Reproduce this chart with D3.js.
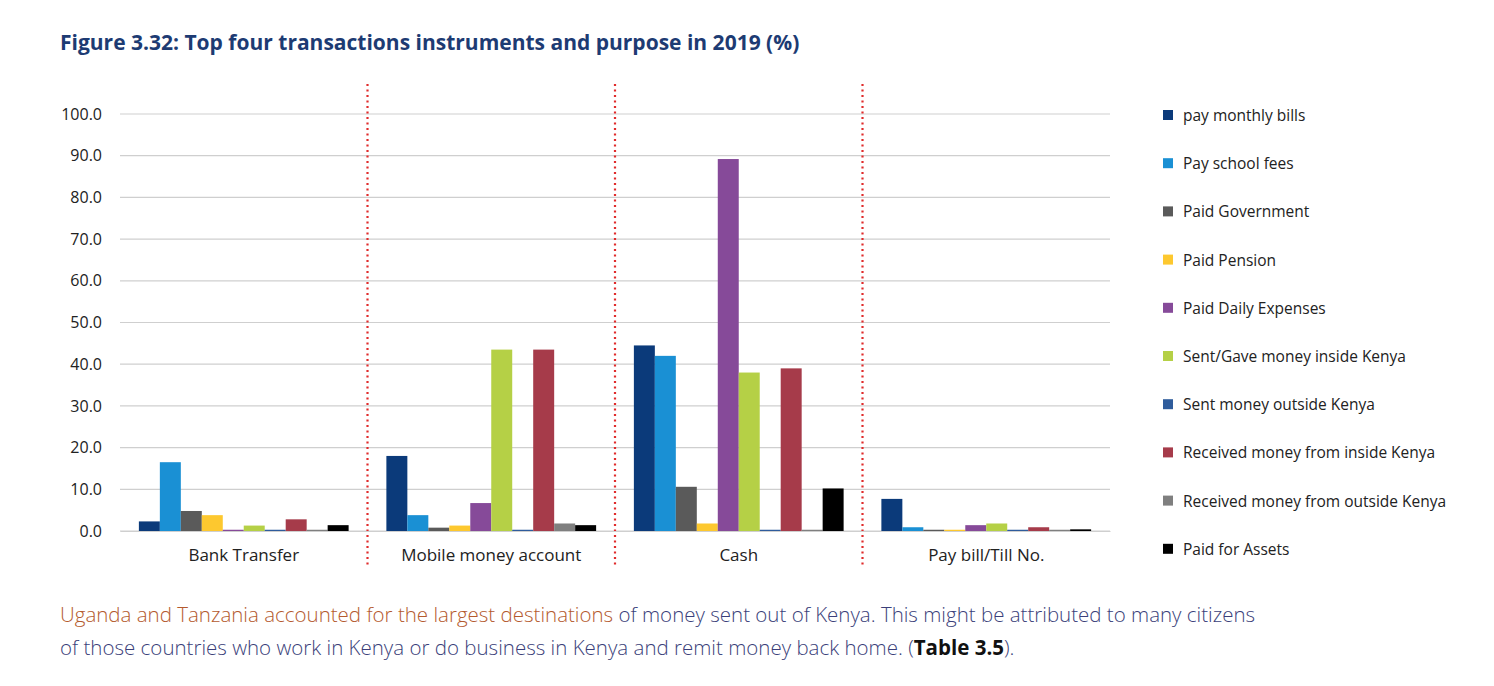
<!DOCTYPE html>
<html>
<head>
<meta charset="utf-8">
<script src="https://cdn.jsdelivr.net/npm/d3@7"></script>
<style>
  body { margin: 0; background: #fff; font-family: "Open Sans", "Noto Sans", sans-serif; }
</style>
</head>
<body>
<svg id="chart" width="1494" height="686"></svg>
<script>
const categories = ["Bank Transfer", "Mobile money account", "Cash", "Pay bill/Till No."];
const seriesNames = ["pay monthly bills", "Pay school fees", "Paid Government", "Paid Pension",
  "Paid Daily Expenses", "Sent/Gave money inside Kenya", "Sent money outside Kenya",
  "Received money from inside Kenya", "Received money from outside Kenya", "Paid for Assets"];
const seriesColors = ["#0b3a7a", "#1a90d4", "#5a5a5a", "#fdc82f", "#864a99", "#b5d046",
  "#2f5c9c", "#a63b4a", "#7f7f7f", "#000000"];
// values[series][category]
const values = [
  [2.3, 18.0, 44.5, 7.7],
  [16.5, 3.8, 42.0, 0.9],
  [4.8, 0.8, 10.6, 0.3],
  [3.8, 1.3, 1.8, 0.3],
  [0.3, 6.7, 89.2, 1.4],
  [1.3, 43.5, 38.0, 1.8],
  [0.3, 0.3, 0.3, 0.3],
  [2.8, 43.5, 39.0, 0.9],
  [0.3, 1.8, 0.3, 0.3],
  [1.4, 1.4, 10.2, 0.4]
];
const yTicks = [0, 10, 20, 30, 40, 50, 60, 70, 80, 90, 100];

const svg = d3.select("#chart");

svg.append("text")
  .attr("x", 60).attr("y", 50)
  .attr("fill", "#1d3b73")
  .attr("font-size", 21).attr("font-weight", "bold")
  .text("Figure 3.32: Top four transactions instruments and purpose in 2019 (%)");

const plotL = 120, plotR = 1110, plotT = 114, plotB = 531;

const x = d3.scaleBand().domain(categories).range([plotL, plotR]);
const xs = d3.scaleBand().domain(d3.range(seriesNames.length))
  .range([0, x.bandwidth()]).paddingOuter(0.9);
const y = d3.scaleLinear().domain([0, 100]).range([plotB, plotT]);

// grid
svg.append("g").selectAll("line").data(yTicks).join("line")
  .attr("x1", plotL).attr("x2", plotR)
  .attr("y1", d => y(d)).attr("y2", d => y(d))
  .attr("stroke", "#cfcfcf").attr("stroke-width", 1.2);

const yAxis = svg.append("g").attr("transform", `translate(${plotL},0)`)
  .call(d3.axisLeft(y).tickValues(yTicks).tickFormat(d3.format(".1f")).tickSize(0).tickPadding(18));
yAxis.select(".domain").remove();
yAxis.selectAll("text").attr("font-size", 16).attr("fill", "#222")
  .attr("font-family", "Open Sans, sans-serif");

// bars
const data = [];
values.forEach((row, s) => row.forEach((v, c) => data.push({ s, c: categories[c], v })));
svg.append("g").selectAll("rect").data(data).join("rect")
  .attr("x", d => x(d.c) + xs(d.s))
  .attr("width", xs.bandwidth())
  .attr("y", d => y(d.v))
  .attr("height", d => y(0) - y(d.v))
  .attr("fill", d => seriesColors[d.s]);

// separators
svg.append("g").selectAll("line").data(categories.slice(1)).join("line")
  .attr("x1", d => x(d)).attr("x2", d => x(d))
  .attr("y1", 84).attr("y2", 566)
  .attr("stroke", "#e02b2b").attr("stroke-width", 2.2)
  .attr("stroke-dasharray", "2,3.5");

const xAxis = svg.append("g").attr("transform", `translate(0,${plotB})`)
  .call(d3.axisBottom(x).tickSize(0).tickPadding(18));
xAxis.select(".domain").attr("stroke", "#cfcfcf");
xAxis.selectAll("text").attr("font-size", 17).attr("fill", "#222")
  .attr("font-family", "Open Sans, sans-serif");

// legend
const lg = svg.append("g").selectAll("g").data(seriesNames).join("g")
  .attr("transform", (d, i) => `translate(1163,${116 + i * 48.2})`);
lg.append("rect").attr("x", 0).attr("y", -6).attr("width", 10).attr("height", 10)
  .attr("fill", (d, i) => seriesColors[i]);
lg.append("text").attr("x", 20).attr("y", 5).attr("font-size", 15.5).attr("fill", "#222")
  .text(d => d);

// caption
const cap = svg.append("g").attr("font-size", 20.5).attr("font-weight", 300);
const t1 = cap.append("text").attr("x", 60).attr("y", 622);
t1.append("tspan").attr("fill", "#b45a2e").text("Uganda and Tanzania accounted for the largest destinations ");
t1.append("tspan").attr("fill", "#3b3f7a").text("of money sent out of Kenya. This might be attributed to many citizens");
const t2 = cap.append("text").attr("x", 60).attr("y", 655).attr("fill", "#3b3f7a");
t2.append("tspan").text("of those countries who work in Kenya or do business in Kenya and remit money back home. (");
t2.append("tspan").attr("font-weight", "bold").attr("fill", "#111").text("Table 3.5");
t2.append("tspan").text(").");
</script>
</body>
</html>
